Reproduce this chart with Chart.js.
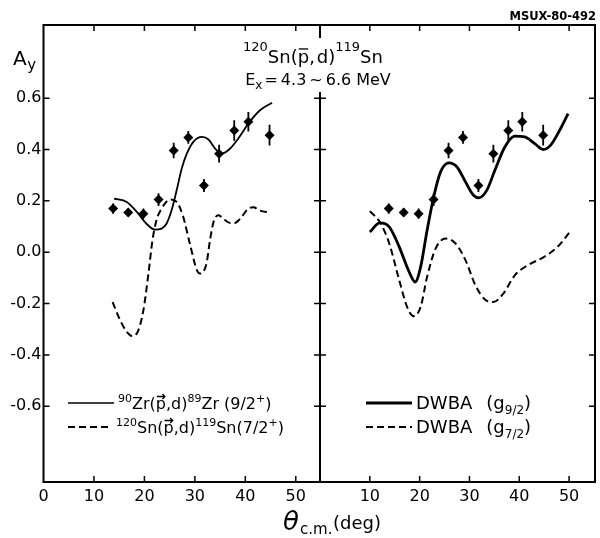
<!DOCTYPE html>
<html><head><meta charset="utf-8">
<script src="https://cdn.jsdelivr.net/npm/chart.js@4.4.1/dist/chart.umd.min.js"></script>
<style>
html,body{margin:0;padding:0;background:#fff}
#wrap{position:relative;width:600px;height:538px;background:#fff}
canvas{position:absolute;left:0;top:0}
</style>
</head><body>
<div id="wrap"><canvas id="cLeft" width="600" height="538"></canvas><canvas id="cRight" width="600" height="538"></canvas></div>
<script>
// ---------- data ----------
const dataAngle = [13.8, 16.8, 19.8, 22.8, 25.8, 28.7, 31.8, 34.8, 37.8, 40.6, 44.8];
const dataAy    = [0.170, 0.155, 0.150, 0.205, 0.396, 0.447, 0.260, 0.384, 0.474, 0.508, 0.456];
const dataErr   = [0.020, 0.015, 0.020, 0.025, 0.030, 0.025, 0.025, 0.035, 0.040, 0.038, 0.040];

const zrAngle = [14.0,16.5,18.5,20.5,22.1,23.4,24.4,25.4,26.4,27.4,28.4,29.7,31.4,32.7,34.0,35.3,37.0,38.6,40.6,42.9,45.3];
const zrAy    = [0.209,0.196,0.157,0.109,0.088,0.092,0.112,0.164,0.242,0.326,0.384,0.430,0.449,0.439,0.404,0.384,0.404,0.443,0.501,0.553,0.582];

const snAngle = [13.7,15.2,16.5,17.7,18.8,19.8,20.8,21.6,22.4,23.4,25.1,26.4,27.7,29.0,30.4,31.0,32.3,33.0,33.7,34.7,35.6,37.0,37.9,39.0,40.6,41.6,42.9,44.8];
const snAy    = [-0.194,-0.265,-0.310,-0.327,-0.304,-0.226,-0.083,0.047,0.125,0.170,0.205,0.196,0.137,0.034,-0.070,-0.083,-0.044,0.047,0.118,0.144,0.131,0.114,0.114,0.131,0.170,0.175,0.162,0.155];

const g9Angle = [10.0,12.0,13.9,15.9,17.9,19.1,20.2,21.5,22.9,24.2,25.9,27.5,29.2,30.8,31.9,33.5,35.1,37.1,39.1,41.1,43.1,44.8,46.3,48.3,49.8];
const g9Ay    = [0.079,0.114,0.099,0.021,-0.077,-0.116,-0.057,0.086,0.222,0.313,0.348,0.332,0.274,0.222,0.212,0.242,0.319,0.410,0.452,0.449,0.423,0.400,0.417,0.482,0.540];

const g7Angle = [10.0,12.0,13.9,15.9,17.6,18.8,20.2,21.5,23.2,25.2,27.2,29.2,31.2,33.1,34.8,36.8,39.1,41.7,45.0,47.7,50.0];
const g7Ay    = [0.160,0.118,0.034,-0.109,-0.219,-0.249,-0.213,-0.096,0.014,0.053,0.034,-0.031,-0.129,-0.184,-0.194,-0.161,-0.090,-0.051,-0.018,0.021,0.075];

const yTickValues = [0.6, 0.4, 0.2, 0.0, -0.2, -0.4, -0.6];
const yTickLabels = ['0.6', '0.4', '0.2', '0.0', '-0.2', '-0.4', '-0.6'];
const xTickValuesLeft  = [0, 10, 20, 30, 40, 50];
const xTickLabelsLeft  = ['0', '10', '20', '30', '40', '50'];
const xTickValuesRight = [10, 20, 30, 40, 50];
const xTickLabelsRight = ['10', '20', '30', '40', '50'];

// ---------- helpers ----------
const FAM = '"DejaVu Sans"';
const pts = (xs, ys) => xs.map((x, i) => ({x, y: ys[i]}));

function rich(ctx, x, y, segs, align) {
  const F = s => (s.it ? 'italic ' : '') + (s.b ? 'bold ' : '') + s.f + 'px ' + FAM;
  let w = 0;
  segs.forEach(s => { ctx.font = F(s); s.w = ctx.measureText(s.t).width; w += (s.g || 0) + s.w; });
  let cx = align === 'center' ? x - w / 2 : align === 'right' ? x - w : x;
  ctx.textAlign = 'left'; ctx.textBaseline = 'alphabetic'; ctx.fillStyle = '#000';
  segs.forEach(s => {
    cx += (s.g || 0);
    ctx.font = F(s);
    const by = y + (s.dy || 0);
    ctx.fillText(s.t, cx, by);
    if (s.bar || s.arrow) {
      const ly = by - s.f * 0.78;
      ctx.save(); ctx.strokeStyle = '#000'; ctx.lineWidth = 1.3;
      ctx.beginPath(); ctx.moveTo(cx + 1, ly); ctx.lineTo(cx + s.w - 1, ly);
      if (s.arrow) { ctx.moveTo(cx + s.w - 3.5, ly - 2.5); ctx.lineTo(cx + s.w - 1, ly); ctx.lineTo(cx + s.w - 3.5, ly + 2.5); }
      ctx.stroke(); ctx.restore();
    }
    cx += s.w;
  });
}

const framePlugin = {
  id: 'frame',
  afterDatasetsDraw(chart) {
    const {ctx, chartArea: a, scales: {x, y}} = chart;
    ctx.save();
    ctx.strokeStyle = '#000'; ctx.lineWidth = 2;
    ctx.strokeRect(a.left, a.top, a.right - a.left, a.bottom - a.top);
    ctx.lineWidth = 1.5;
    const L = 6;
    ctx.beginPath();
    y.ticks.forEach(t => {
      const py = y.getPixelForValue(t.value);
      ctx.moveTo(a.left, py); ctx.lineTo(a.left + L, py);
      ctx.moveTo(a.right, py); ctx.lineTo(a.right - L, py);
    });
    x.ticks.forEach(t => {
      if (t.value <= 0) return;
      const px = x.getPixelForValue(t.value);
      ctx.moveTo(px, a.top); ctx.lineTo(px, a.top + L);
      ctx.moveTo(px, a.bottom); ctx.lineTo(px, a.bottom - L);
    });
    ctx.stroke();
    ctx.restore();
  }
};

const errPlugin = {
  id: 'errbars',
  afterDatasetsDraw(chart) {
    const {ctx, scales: {x, y}} = chart;
    ctx.save(); ctx.strokeStyle = '#000'; ctx.lineWidth = 1.8;
    ctx.beginPath();
    dataAngle.forEach((a, i) => {
      const px = x.getPixelForValue(a);
      ctx.moveTo(px, y.getPixelForValue(dataAy[i] + dataErr[i]));
      ctx.lineTo(px, y.getPixelForValue(dataAy[i] - dataErr[i]));
    });
    ctx.stroke(); ctx.restore();
  }
};

function legendLine(ctx, x1, x2, y, lw, dash) {
  ctx.save(); ctx.strokeStyle = '#000'; ctx.lineWidth = lw; ctx.setLineDash(dash || []);
  ctx.beginPath(); ctx.moveTo(x1, y); ctx.lineTo(x2, y); ctx.stroke(); ctx.restore();
}

const annotPlugin = {
  id: 'annot',
  afterDraw(chart) {
    const ctx = chart.ctx;
    ctx.save();
    // gap of divider behind title
    ctx.fillStyle = '#fff'; ctx.fillRect(313, 38, 14, 54);
    // reference number
    rich(ctx, 596, 20, [{t: 'MSUX-80-492', f: 11.5, b: true}], 'right');
    // A_y
    rich(ctx, 13, 65, [{t: 'A', f: 20}, {t: 'y', f: 15, dy: 5, g: 0.5}], 'left');
    // title
    rich(ctx, 313, 63, [
      {t: '120', f: 13, dy: -12}, {t: 'Sn(', f: 18}, {t: 'p', f: 18, bar: true},
      {t: ',', f: 18}, {t: 'd)', f: 18, g: 2}, {t: '119', f: 13, dy: -12}, {t: 'Sn', f: 18}], 'center');
    rich(ctx, 318, 85, [
      {t: 'E', f: 16}, {t: 'x', f: 12, dy: 4}, {t: '=', f: 16, g: 2}, {t: '4.3', f: 16, g: 3},
      {t: '~', f: 16, g: 3}, {t: '6.6', f: 16, g: 3}, {t: 'MeV', f: 16, g: 5}], 'center');
    // x-axis title
    rich(ctx, 283, 530, [{t: 'θ', f: 26, it: true}]);
    rich(ctx, 300, 534, [{t: 'c.m.', f: 15}]);
    rich(ctx, 333, 529, [{t: '(deg)', f: 18}]);
    // left legend
    legendLine(ctx, 68, 114, 403, 1.5);
    rich(ctx, 118, 409, [
      {t: '90', f: 11, dy: -7}, {t: 'Zr(', f: 16}, {t: 'p', f: 16, arrow: true}, {t: ',d)', f: 16},
      {t: '89', f: 11, dy: -7}, {t: 'Zr (9/2', f: 16}, {t: '+', f: 11, dy: -7}, {t: ')', f: 16}]);
    legendLine(ctx, 68, 112, 427, 2, [7, 4]);
    rich(ctx, 116, 433, [
      {t: '120', f: 11, dy: -7}, {t: 'Sn(', f: 16}, {t: 'p', f: 16, arrow: true}, {t: ',d)', f: 16},
      {t: '119', f: 11, dy: -7}, {t: 'Sn(7/2', f: 16}, {t: '+', f: 11, dy: -7}, {t: ')', f: 16}]);
    // right legend
    legendLine(ctx, 366, 412, 403, 3);
    rich(ctx, 416, 409, [{t: 'DWBA', f: 18}, {t: '(g', f: 18, g: 14}, {t: '9/2', f: 12, dy: 5}, {t: ')', f: 18}]);
    legendLine(ctx, 366, 412, 427, 2, [7, 4]);
    rich(ctx, 416, 433, [{t: 'DWBA', f: 18}, {t: '(g', f: 18, g: 14}, {t: '7/2', f: 12, dy: 5}, {t: ')', f: 18}]);
    ctx.restore();
  }
};

function panelOptions(p) {
  return {
    responsive: false, animation: false, devicePixelRatio: 1,
    layout: {padding: {left: p.padLeft, right: p.padRight, top: 25, bottom: 0}},
    plugins: {legend: {display: false}, tooltip: {enabled: false}},
    scales: {
      x: {
        type: 'linear', min: 0, max: p.xMax,
        grid: {display: false, drawTicks: false}, border: {display: false},
        afterBuildTicks: s => { s.ticks = p.xTicks.map(v => ({value: v})); },
        afterFit: s => { s.height = 56; },
        ticks: {autoSkip: false, maxRotation: 0, padding: 5, color: '#000',
          font: {family: 'DejaVu Sans', size: 16}, callback: (v, i) => p.xLabels[i]}
      },
      y: {
        type: 'linear', min: -0.895, max: 0.885, display: p.showY,
        grid: {display: false, drawTicks: false}, border: {display: false},
        afterBuildTicks: s => { s.ticks = yTickValues.map(v => ({value: v})); },
        afterFit: s => { s.width = p.showY ? 43.5 : 0; },
        ticks: {autoSkip: false, padding: 2, color: '#000',
          font: {family: 'DejaVu Sans', size: 16}, callback: (v, i) => yTickLabels[i]}
      }
    }
  };
}

const pointSet = () => ({
  data: pts(dataAngle, dataAy), showLine: false, pointStyle: 'rectRot',
  pointRadius: 5, backgroundColor: '#000', borderColor: '#000', borderWidth: 0
});

new Chart(document.getElementById('cLeft'), {
  type: 'scatter',
  data: {datasets: [
    {data: pts(zrAngle, zrAy), showLine: true, borderColor: '#000', borderWidth: 1.8, pointRadius: 0, cubicInterpolationMode: 'monotone'},
    {data: pts(snAngle, snAy), showLine: true, borderColor: '#000', borderWidth: 2, borderDash: [7, 4], pointRadius: 0, cubicInterpolationMode: 'monotone'},
    pointSet()
  ]},
  options: panelOptions({padLeft: 0, padRight: 280, xMax: 54.8, xTicks: xTickValuesLeft, xLabels: xTickLabelsLeft, showY: true}),
  plugins: [framePlugin, errPlugin]
});

new Chart(document.getElementById('cRight'), {
  type: 'scatter',
  data: {datasets: [
    {data: pts(g9Angle, g9Ay), showLine: true, borderColor: '#000', borderWidth: 2.8, pointRadius: 0, cubicInterpolationMode: 'monotone'},
    {data: pts(g7Angle, g7Ay), showLine: true, borderColor: '#000', borderWidth: 2, borderDash: [7, 4], pointRadius: 0, cubicInterpolationMode: 'monotone'},
    pointSet()
  ]},
  options: panelOptions({padLeft: 320, padRight: 2, xMax: 55.2, xTicks: xTickValuesRight, xLabels: xTickLabelsRight, showY: false}),
  plugins: [framePlugin, errPlugin, annotPlugin]
});
</script>
</body></html>
